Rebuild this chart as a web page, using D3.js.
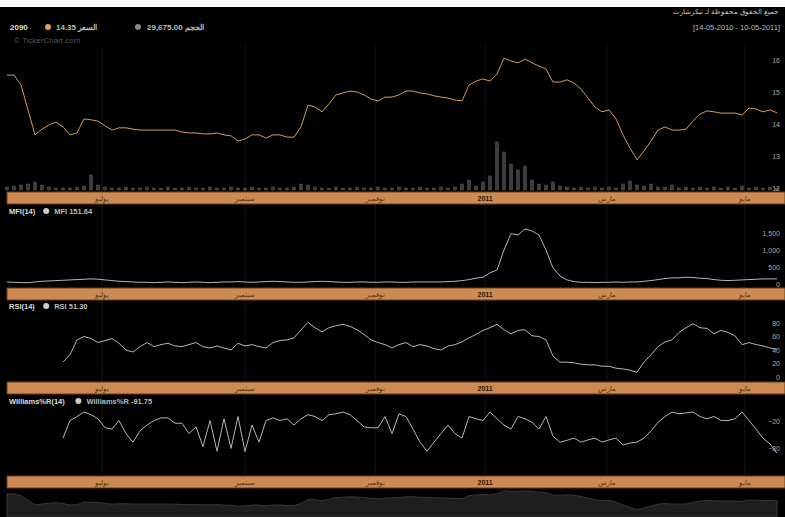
<!DOCTYPE html>
<html lang="ar">
<head>
<meta charset="utf-8">
<title>TickerChart</title>
<script src="https://cdn.jsdelivr.net/npm/d3@7"></script>
<style>
  body { margin: 0; background: #000; }
  text { font-family: "Liberation Sans", Arial, sans-serif; }
</style>
</head>
<body>
<script>
// daily closes, one per session
var price = [15.53,15.53,15.22,14.44,13.66,13.84,13.97,14.06,13.91,13.66,
  13.72,14.16,14.13,14.09,13.94,13.81,13.88,13.88,13.84,13.81,
  13.81,13.81,13.81,13.81,13.81,13.75,13.72,13.72,13.69,13.69,
  13.72,13.66,13.63,13.47,13.53,13.66,13.66,13.56,13.66,13.66,
  13.59,13.59,13.91,14.59,14.53,14.38,14.63,14.91,14.97,15.03,
  15.00,14.91,14.78,14.72,14.84,14.84,14.91,15.03,15.03,14.97,
  14.94,14.88,14.84,14.81,14.75,14.72,15.22,15.34,15.41,15.34,
  15.56,16.06,15.97,15.91,16.03,15.91,15.81,15.72,15.31,15.31,
  15.38,15.28,15.09,14.81,14.53,14.38,14.44,14.16,13.66,13.25,
  12.88,13.16,13.47,13.81,13.91,13.81,13.81,13.84,14.09,14.31,
  14.41,14.38,14.34,14.34,14.34,14.28,14.50,14.47,14.38,14.44,14.35];

// volume, thousands of shares
var volume = [60,80,100,120,160,100,60,40,40,40,
  60,80,300,100,60,40,40,60,40,40,
  60,40,40,60,40,40,60,40,40,60,
  40,40,60,40,40,60,40,40,60,40,
  40,60,120,100,60,40,40,60,40,40,
  60,40,40,60,40,40,60,40,40,60,
  40,40,60,40,60,120,200,80,160,280,
  960,760,520,400,480,200,120,100,160,80,
  60,40,60,40,60,40,60,40,120,180,
  100,80,120,60,60,100,40,60,40,60,
  40,60,40,60,40,80,40,60,40,60,40];

var mfi = [60,50,40,40,60,80,90,100,110,120,
  130,140,150,140,120,100,80,70,60,50,
  50,40,50,60,50,40,50,60,50,40,
  50,60,60,70,60,50,60,70,80,70,
  60,50,50,60,70,80,70,60,50,50,
  60,60,50,50,60,60,50,50,60,60,
  60,60,60,70,80,100,130,170,200,330,
  410,1000,1480,1440,1620,1560,1440,1000,470,235,
  120,70,50,50,40,50,50,60,50,60,
  60,80,100,130,160,180,180,200,190,170,
  160,130,110,100,110,120,130,140,150,150,151.64];

var rsi = [null,null,null,null,null,null,null,null,22,33,
  55,60,57,51,54,57,50,40,37,45,
  51,45,48,50,46,45,48,51,45,43,
  46,43,40,50,46,48,45,43,51,54,
  55,58,70,81,73,67,73,76,78,75,
  70,63,55,51,48,43,48,51,45,48,
  46,42,40,46,48,52,58,63,69,73,
  78,70,64,69,70,61,60,55,31,22,
  22,21,19,18,18,16,16,13,12,10,
  7,22,33,45,52,55,66,73,79,73,
  72,64,69,66,61,48,51,48,46,43,41];

var willr = [null,null,null,null,null,null,null,null,-58,-19,
  -10,0,-6,-15,-35,-38,-19,-48,-67,-42,
  -29,-19,-13,-13,-25,-25,-48,-33,-77,-19,
  -87,-15,-81,-10,-88,-29,-67,-19,-13,-19,
  -15,-29,-15,-6,-10,-19,-6,-4,0,-6,
  -19,-33,-35,-35,-10,-48,-4,-10,-38,-67,
  -87,-67,-48,-29,-48,-58,-10,-15,-19,0,
  -15,-29,-38,-10,-15,-23,-38,-10,-54,-67,
  -63,-58,-67,-62,-58,-67,-62,-58,-73,-69,
  -67,-58,-42,-23,-10,0,-4,-2,0,-10,
  -15,-10,-19,-19,-15,0,-19,-38,-58,-71,-91.75];

// month labels on the time strip and the session where each month starts
var monthLabels = ["يوليو", "سبتمبر", "نوفمبر", "2011", "مارس", "مايو"];
var monthAt = [13.6, 34, 52.6, 68.3, 85.7, 105.4];

var priceTicks = [12, 13, 14, 15, 16];
var mfiTicks = [0, 500, 1000, 1500];
var rsiTicks = [0, 20, 40, 60, 80];
var willrTicks = [-20, -80];

var w = 785, h = 517;
var left = 7, right = 777;
var band = "#cd8a52";

var svg = d3.select("body").append("svg")
  .attr("width", w).attr("height", h)
  .style("display", "block");

svg.append("rect").attr("width", w).attr("height", h).attr("fill", "#000");
svg.append("rect").attr("width", w).attr("height", 7).attr("fill", "#fff");

var x = d3.scaleLinear().domain([0, price.length - 1]).range([left, right]);

// faint month grid
svg.selectAll("line.grid").data(monthAt).enter().append("line")
  .attr("class", "grid")
  .attr("x1", function(d) { return x(d); }).attr("x2", function(d) { return x(d); })
  .attr("y1", 45).attr("y2", 476)
  .attr("stroke", "#161616").attr("stroke-width", 1);

// header
var head = svg.append("g").attr("fill", "#ddd").attr("font-size", 8).attr("font-weight", "bold");
head.append("text").attr("x", 10).attr("y", 30).text("2090");
head.append("circle").attr("cx", 48).attr("cy", 27).attr("r", 3).attr("fill", "#e89a55");
head.append("text").attr("x", 56).attr("y", 30).attr("fill", "#bbb").text("14.35 السعر");
head.append("circle").attr("cx", 138).attr("cy", 27).attr("r", 3).attr("fill", "#888");
head.append("text").attr("x", 147).attr("y", 30).attr("fill", "#bbb").text("29,675.00 الحجم");
svg.append("text").attr("x", 14).attr("y", 43).attr("font-size", 8).attr("fill", "#555")
  .text("© TickerChart.com");
svg.append("text").attr("x", 778).attr("y", 14).attr("font-size", 7).attr("fill", "#ccc")
  .attr("text-anchor", "end").text("جميع الحقوق محفوظة لـ تيكرشارت");
svg.append("text").attr("x", 780).attr("y", 30).attr("font-size", 7.5).attr("fill", "#bbb")
  .attr("text-anchor", "end").text("[14-05-2010 - 10-05-2011]");

function valueAxis(scale, ticks, fmt) {
  var g = svg.append("g").attr("transform", "translate(" + (w - 2) + ",0)")
    .call(d3.axisLeft(scale).tickValues(ticks).tickSize(0).tickFormat(fmt));
  g.select(".domain").remove();
  g.selectAll("text").attr("fill", "#aaa").attr("font-size", 7)
    .style("font-family", "Liberation Sans, Arial, sans-serif");
}

function timeStrip(y0) {
  svg.append("rect").attr("x", left).attr("y", y0).attr("width", w - left).attr("height", 12)
    .attr("fill", band).attr("stroke", "#6b3e18").attr("stroke-width", 1);
  var g = svg.append("g").attr("transform", "translate(0," + (y0 + 9) + ")");
  g.selectAll("text").data(monthLabels).enter().append("text")
    .attr("x", function(d, i) { return x(monthAt[i]); })
    .attr("text-anchor", "middle")
    .attr("font-size", 7)
    .attr("font-weight", function(d) { return d === "2011" ? "bold" : "normal"; })
    .attr("fill", function(d) { return d === "2011" ? "#2a1204" : "#5a2f10"; })
    .text(function(d) { return d; });
}

function panelTitle(y, name, val) {
  var g = svg.append("g").attr("font-size", 7.5).attr("font-weight", "bold").attr("fill", "#ddd");
  g.append("text").attr("x", 9).attr("y", y).text(name);
  var wd = name.length * 4.6 + 14;
  g.append("circle").attr("cx", wd).attr("cy", y - 3).attr("r", 3).attr("fill", "#ccc");
  g.append("text").attr("x", wd + 8).attr("y", y).attr("fill", "#bbb").text(val);
}

// price panel
var yPrice = d3.scaleLinear().domain([12, 16]).range([188, 60]);
var yVol = d3.scaleLinear().domain([0, 1200]).range([190, 130]);

svg.append("g").selectAll("rect").data(volume).enter().append("rect")
  .attr("x", function(d, i) { return x(i) - 1.5; })
  .attr("y", function(d) { return yVol(d); })
  .attr("width", 3)
  .attr("height", function(d) { return yVol(0) - yVol(d); })
  .attr("fill", "#3c3c3c").attr("stroke", "#5a5a5a").attr("stroke-width", 0.5);

svg.append("path").datum(price)
  .attr("d", d3.line().x(function(d, i) { return x(i); }).y(function(d) { return yPrice(d); }))
  .attr("fill", "none").attr("stroke", "#d49a62").attr("stroke-width", 1);
valueAxis(yPrice, priceTicks, d3.format("d"));
timeStrip(192);

// MFI
var yMfi = d3.scaleLinear().domain([0, 1500]).range([284, 233]);
panelTitle(214, "MFI(14)", "MFI 151.64");
svg.append("path").datum(mfi)
  .attr("d", d3.line().defined(function(d) { return d !== null; })
    .x(function(d, i) { return x(i); }).y(function(d) { return yMfi(d); }))
  .attr("fill", "none").attr("stroke", "#b5b5b5").attr("stroke-width", 1);
valueAxis(yMfi, mfiTicks, d3.format(","));
timeStrip(288);

// RSI
var yRsi = d3.scaleLinear().domain([0, 80]).range([377, 323]);
panelTitle(309, "RSI(14)", "RSI 51.30");
svg.append("path").datum(rsi)
  .attr("d", d3.line().defined(function(d) { return d !== null; })
    .x(function(d, i) { return x(i); }).y(function(d) { return yRsi(d); }))
  .attr("fill", "none").attr("stroke", "#b5b5b5").attr("stroke-width", 1);
valueAxis(yRsi, rsiTicks, d3.format("d"));
timeStrip(382);

// Williams %R
var yWr = d3.scaleLinear().domain([-100, 0]).range([457, 412]);
panelTitle(404, "Williams%R(14)", "Williams%R -91.75");
svg.append("path").datum(willr)
  .attr("d", d3.line().defined(function(d) { return d !== null; })
    .x(function(d, i) { return x(i); }).y(function(d) { return yWr(d); }))
  .attr("fill", "none").attr("stroke", "#b5b5b5").attr("stroke-width", 1);
valueAxis(yWr, willrTicks, d3.format("d"));
timeStrip(476);

// navigator
var yNav = d3.scaleLinear().domain([12, 16.5]).range([515, 488]);
svg.append("path").datum(price)
  .attr("d", d3.area().x(function(d, i) { return x(i); }).y0(h).y1(function(d) { return yNav(d); }))
  .attr("fill", "#1e1e1e").attr("stroke", "#363636").attr("stroke-width", 1);
</script>
</body>
</html>
